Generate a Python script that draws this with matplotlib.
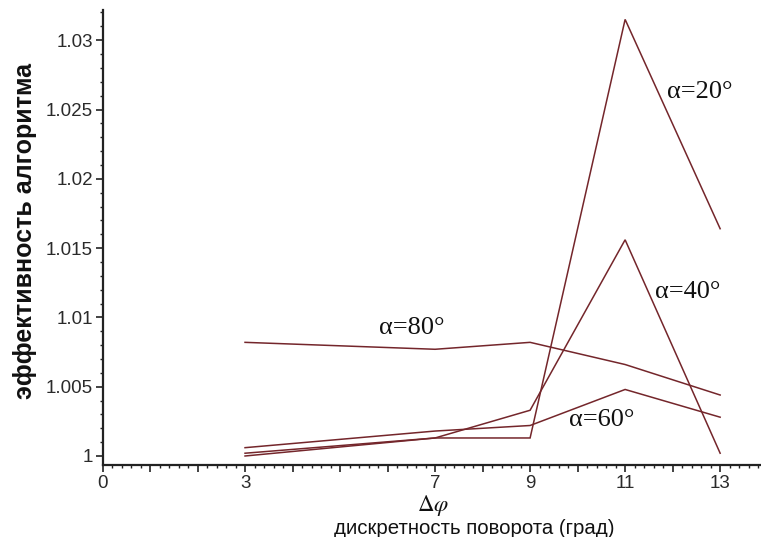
import numpy as np
import matplotlib
matplotlib.use("Agg")
import matplotlib.pyplot as plt
from matplotlib.ticker import MultipleLocator, FixedLocator, FuncFormatter

# ---- Data ----
dphi = [3, 7, 9, 11, 13]
eff_20 = [1.0000, 1.0013, 1.0013, 1.0315, 1.0164]
eff_40 = [1.0002, 1.0013, 1.0033, 1.0156, 1.0002]
eff_60 = [1.0006, 1.0018, 1.0022, 1.0048, 1.0028]
eff_80 = [1.0082, 1.0077, 1.0082, 1.0066, 1.0044]

x_labeled = [0, 3, 7, 9, 11, 13]
y_ticks = [1.0, 1.005, 1.01, 1.015, 1.02, 1.025, 1.03]

LINE_C = "#74262b"
TXT_C = "#2a2a2a"

plt.rcParams["mathtext.fontset"] = "stix"

fig = plt.figure(figsize=(7.61, 5.37), dpi=100)
ax = fig.add_axes([102.5 / 761, 72 / 537, 1 - 102.5 / 761, 455 / 537])

for ys in (eff_20, eff_40, eff_60, eff_80):
    ax.plot(dphi, ys, color=LINE_C, lw=1.1, solid_joinstyle="miter")

ax.set_xlim(0, 13.86)
ax.set_ylim(0.99935, 1.03218)

# Maple-like axes: only left and bottom
for s in ("top", "right"):
    ax.spines[s].set_visible(False)
for s in ("left", "bottom"):
    ax.spines[s].set_linewidth(1.6)
    ax.spines[s].set_color("#222222")

ax.xaxis.set_major_locator(MultipleLocator(1))
ax.xaxis.set_minor_locator(MultipleLocator(0.2))
ax.xaxis.set_major_formatter(FuncFormatter(lambda v, p: f"{v:g}" if round(v) in x_labeled else ""))
ax.yaxis.set_major_locator(FixedLocator(y_ticks))
ax.yaxis.set_minor_locator(MultipleLocator(0.001))
ax.yaxis.set_major_formatter(FuncFormatter(lambda v, p: f"{v:g}"))

ax.tick_params(axis="both", which="major", direction="out", length=5, width=1.2,
               color="#222222", labelsize=13.5, labelcolor=TXT_C)
ax.tick_params(axis="both", which="minor", direction="out", length=2.5, width=1.0, color="#222222")
ax.tick_params(axis="x", which="major", pad=2.5)
ax.tick_params(axis="y", which="major", pad=2)
for lab in ax.get_xticklabels() + ax.get_yticklabels():
    lab.set_fontfamily("Liberation Sans")

# curve labels
lab_kw = dict(fontsize=19, family="Liberation Serif", color="#111111", ha="left", va="center")
ax.text(11.89, 1.02626, "α=20°", **lab_kw)
ax.text(11.63, 1.01183, "α=40°", **lab_kw)
ax.text(5.82, 1.00924, "α=80°", **lab_kw)
ax.text(9.82, 1.00260, "α=60°", **lab_kw)

# axis titles
fig.text(433 / 761, 1 - 506 / 537, r"$\Delta\varphi$", fontsize=16.5, ha="center", va="center", color="#111111")
fig.text(474.5 / 761, 1 - 529 / 537, "дискретность поворота (град)", fontsize=14.7,
         family="Liberation Sans", ha="center", va="center", color="#111111")
fig.text(25 / 761, 1 - 231 / 537, "эффективность алгоритма", fontsize=18, fontweight="bold",
         family="Liberation Sans", rotation=90, ha="center", va="center", color="#111111")

fig.savefig("out.png", dpi=100)
